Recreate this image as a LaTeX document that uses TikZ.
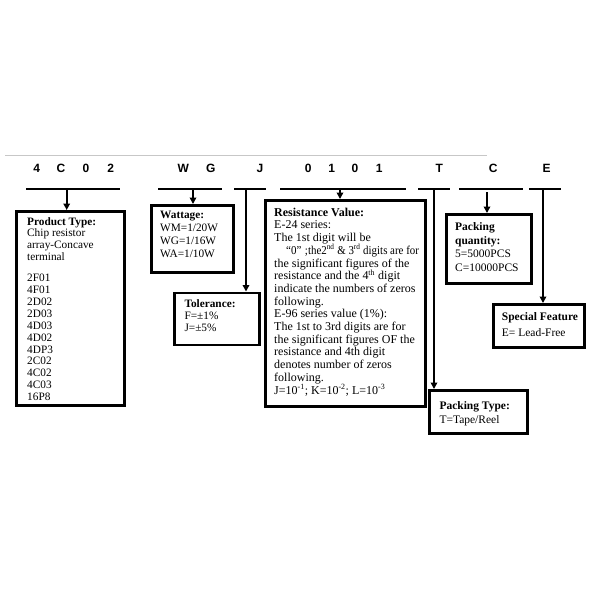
\documentclass[tikz,border=0pt]{standalone}
\usepackage{fontspec}
\usepackage{graphicx}
\setmainfont{Liberation Serif}
\newfontfamily\codefont{Liberation Sans}
\usetikzlibrary{arrows.meta}
\begin{document}
\begin{tikzpicture}[x=1pt,y=-1pt,
  codeletter/.style={font=\codefont\bfseries\fontsize{12}{12}\selectfont, inner sep=0},
  bar/.style={line width=2.4pt},
  conn/.style={line width=1.8pt, -{Triangle[length=6.5pt,width=6.5pt]}},
  box/.style={draw, line width=2.8pt, inner sep=0, anchor=north west},
  txt/.style={inner sep=0, anchor=north west, align=left},
  topline/.style={line width=1pt, draw=black!22}]
\fill[white] (0,0) rectangle (600,600);
\useasboundingbox (0,0) rectangle (600,600);

% top gray rule
\coordinate (tl) at (5,155);
\coordinate (tr) at (487,155);
\draw[topline] (tl) -- (tr);

% code letters
\node[codeletter] (c1) at (36.7,168) {4};
\node[codeletter] (c2) at (61,168) {C};
\node[codeletter] (c3) at (86,168) {0};
\node[codeletter] (c4) at (110.7,168) {2};
\node[codeletter] (c5) at (183.3,168) {W};
\node[codeletter] (c6) at (210.7,168) {G};
\node[codeletter] (c7) at (260,168) {J};
\node[codeletter] (c8) at (308.3,168) {0};
\node[codeletter] (c9) at (331.7,168) {1};
\node[codeletter] (c10) at (355,168) {0};
\node[codeletter] (c11) at (379.3,168) {1};
\node[codeletter] (c12) at (439.3,168) {T};
\node[codeletter] (c13) at (493.3,168) {C};
\node[codeletter] (c14) at (546.7,168) {E};

% underline bars
\coordinate (b1l) at (26,189);  \coordinate (b1r) at (120,189);
\coordinate (b2l) at (158,189); \coordinate (b2r) at (222,189);
\coordinate (b3l) at (234,189); \coordinate (b3r) at (266,189);
\coordinate (b4l) at (280,189); \coordinate (b4r) at (406,189);
\coordinate (b5l) at (418,189); \coordinate (b5r) at (450,189);
\coordinate (b6l) at (459,189); \coordinate (b6r) at (523,189);
\coordinate (b7l) at (529,189); \coordinate (b7r) at (561,189);
\foreach \i in {1,...,7} {\draw[bar] (b\i l) -- (b\i r);}

% boxes
\node[box, minimum width=108pt, minimum height=194pt] (ptype) at (15,210) {};
\node[box, minimum width=82pt, minimum height=67pt] (watt) at (150,204) {};
\node[box, minimum width=85pt, minimum height=52pt] (tol) at (173,291.5) {};
\node[box, minimum width=160pt, minimum height=206pt] (res) at (264,199) {};
\node[box, minimum width=85pt, minimum height=69pt] (pq) at (445,213) {};
\node[box, minimum width=91pt, minimum height=43pt] (sf) at (492,303) {};
\node[box, minimum width=98pt, minimum height=43pt] (pt) at (428,389) {};

% texts
\node[txt, font=\fontsize{11.3}{11.9}\selectfont] (ptypetxt) at (27,217)
  {\textbf{Product Type:}\\Chip resistor\\array-Concave\\terminal\\[9pt]2F01\\4F01\\2D02\\2D03\\4D03\\4D02\\4DP3\\2C02\\4C02\\4C03\\16P8};
\node[txt, font=\fontsize{11.3}{12.8}\selectfont] (watttxt) at (160,211)
  {\textbf{Wattage:}\\WM=1/20W\\WG=1/16W\\WA=1/10W};
\node[txt, font=\fontsize{11.3}{12.2}\selectfont] (toltxt) at (184.3,299.3)
  {\textbf{Tolerance:}\\F=±1\%\\J=±5\%};
\node[txt, font=\fontsize{12}{12.7}\selectfont] (restxt) at (274,207.7)
  {\textbf{Resistance Value:}\\
   E-24 series:\\
   The 1st digit will be\\
   \hspace*{12pt}\scalebox{0.91}[1]{“0”\hspace{4pt};the2\textsuperscript{nd} \& 3\textsuperscript{rd} digits are for}\\
   the significant figures of the\\
   resistance and the 4\textsuperscript{th} digit\\
   indicate the numbers of zeros\\
   following.\\
   E-96 series value (1\%):\\
   The 1st to 3rd digits are for\\
   the significant figures OF the\\
   resistance and 4th digit\\
   denotes number of zeros\\
   following.\\
   J=10\textsuperscript{-1}; K=10\textsuperscript{-2}; L=10\textsuperscript{-3}};
\node[txt, font=\fontsize{11.5}{13.9}\selectfont] (pqtxt) at (455,222)
  {\textbf{Packing}\\\textbf{quantity:}\\5=5000PCS\\C=10000PCS};
\node[txt, font=\fontsize{11.5}{16}\selectfont] (sftxt) at (501.7,312.7)
  {\textbf{Special Feature}\\E= Lead-Free};
\node[txt, font=\fontsize{11.5}{14}\selectfont] (pttxt) at (439.3,401)
  {\textbf{Packing Type:}\\T=Tape/Reel};

% connectors
\coordinate (a1) at (66.7,189);
\coordinate (a2) at (193,189);
\coordinate (a3) at (246,189);
\coordinate (a4) at (340,189);
\coordinate (a5) at (434,189);
\coordinate (a6) at (487,192);
\coordinate (a7) at (543,189);
\draw[conn] (a1) -- (a1 |- ptype.north);
\draw[conn] (a2) -- (a2 |- watt.north);
\draw[conn] (a3) -- (a3 |- tol.north);
\draw[conn] (a4) -- (a4 |- res.north);
\draw[conn] (a5) -- (a5 |- pt.north);
\draw[conn] (a6) -- (a6 |- pq.north);
\draw[conn] (a7) -- (a7 |- sf.north);
\end{tikzpicture}
\end{document}
